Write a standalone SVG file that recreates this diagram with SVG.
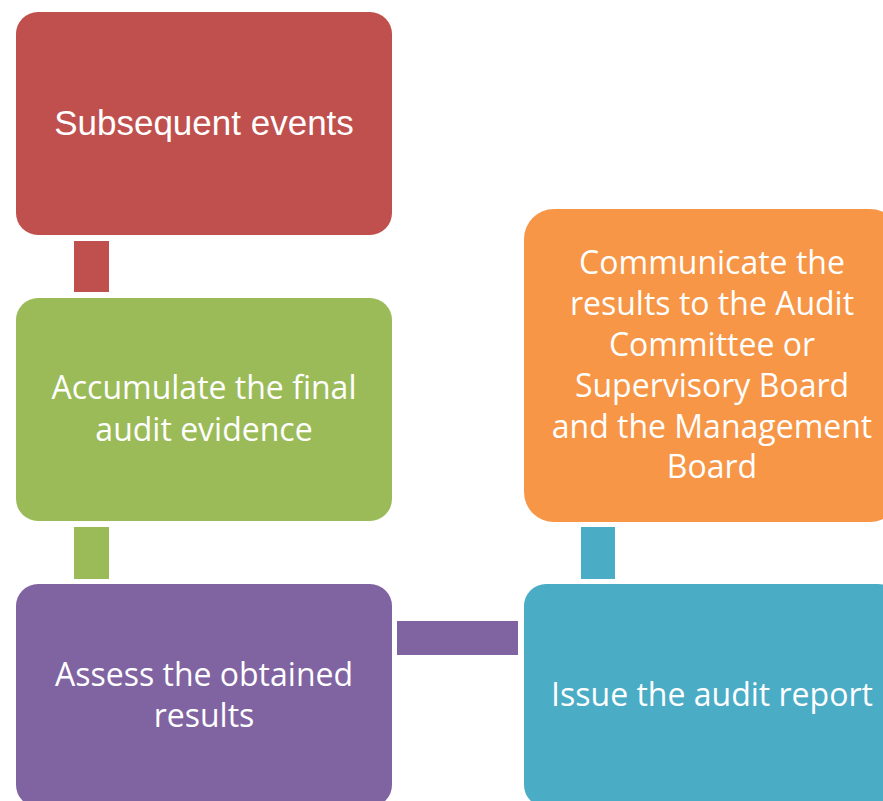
<svg xmlns="http://www.w3.org/2000/svg" width="883" height="801" viewBox="0 0 883 801">
<style>
.t{fill:#fff;font-family:"Open Sans","Liberation Sans",sans-serif;font-size:32px;text-anchor:middle}
.t2{fill:#fff;font-family:"Liberation Sans",Arial,sans-serif;font-size:35px;text-anchor:middle}
</style>
<rect width="883" height="801" fill="#fff"/>
<g id="connectors">
<rect x="74" y="241" width="35" height="51" fill="#C0504D"/>
<rect x="74" y="527" width="35" height="52" fill="#9BBB59"/>
<rect x="397" y="621" width="121" height="34" fill="#8064A2"/>
<rect x="581" y="527" width="34" height="52" fill="#4BACC6"/>
</g>
<g id="subsequent">
<rect x="16" y="12" width="376" height="223" rx="22" fill="#C0504D"/>
<text class="t2" x="204" y="135">Subsequent events</text>
</g>
<g id="accumulate">
<rect x="16" y="298" width="376" height="223" rx="22" fill="#9BBB59"/>
<text class="t" x="204" y="399">Accumulate the final</text>
<text class="t" x="204" y="441">audit evidence</text>
</g>
<g id="assess">
<rect x="16" y="584" width="376" height="223" rx="22" fill="#8064A2"/>
<text class="t" x="204" y="686">Assess the obtained</text>
<text class="t" x="204" y="727">results</text>
</g>
<g id="issue">
<rect x="524" y="584" width="376" height="223" rx="22" fill="#4BACC6"/>
<text class="t" x="712" y="706">Issue the audit report</text>
</g>
<g id="communicate">
<rect x="524" y="209" width="376" height="313" rx="30" fill="#F79646"/>
<text class="t" x="712" y="274">Communicate the</text>
<text class="t" x="712" y="315">results to the Audit</text>
<text class="t" x="712" y="356">Committee or</text>
<text class="t" x="712" y="397">Supervisory Board</text>
<text class="t" x="712" y="438">and the Management</text>
<text class="t" x="712" y="478">Board</text>
</g>
</svg>
